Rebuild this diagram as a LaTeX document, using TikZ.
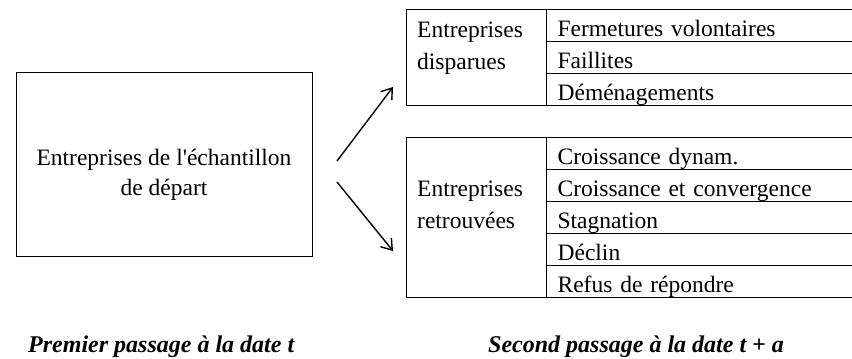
\documentclass[tikz,border=0pt]{standalone}
\usepackage{fontspec}
\setmainfont{Liberation Serif}
\newfontfamily\plainser{Liberation Serif}[Ligatures=TeXOff]
\usetikzlibrary{arrows.meta}
\begin{document}
\begin{tikzpicture}[x=1pt,y=-1pt,
  boxline/.style={draw=black,line width=1.2pt},
  rowcell/.style={boxline,anchor=north west,minimum height=32pt,text height=22pt,text depth=0pt,inner ysep=0pt,inner xsep=11pt,text width=292pt,align=left,font=\fontsize{23.5}{28}\selectfont},
  bigcell/.style={boxline,anchor=north west,inner sep=0pt,minimum width=140pt},
  textlbl/.style={anchor=base west,inner sep=0pt,font=\fontsize{23.5}{28}\selectfont},
  centlbl/.style={anchor=base,inner sep=0pt,font=\fontsize{23.5}{28}\selectfont},
  captxt/.style={anchor=base west,inner sep=0pt,font=\fontsize{24}{28}\selectfont\bfseries\itshape},
  arr/.style={line width=1.4pt,-{Straight Barb[length=10pt,width=14pt,line width=1.4pt]}}]
\useasboundingbox (0,0) rectangle (852,359);
\clip (0,0) rectangle (852,359);
% left box
\node[boxline,anchor=north west,inner sep=0pt,minimum width=296pt,minimum height=184pt] (start) at (16,72) {};
\node[centlbl] (st1) at (164,165) {Entreprises de l{\plainser '}échantillon};
\node[centlbl] (st2) at (164,195) {de départ};
% top table
\node[bigcell,minimum height=96pt] (disp) at (406,9) {};
\node[textlbl] (d1) at (417,37) {Entreprises};
\node[textlbl] (d2) at (417,69) {disparues};
\node[rowcell] (f1) at (546,9) {Fermetures volontaires};
\node[rowcell] (f2) at (546,41) {Faillites};
\node[rowcell] (f3) at (546,73) {Déménagements};
% bottom table
\node[bigcell,minimum height=160pt] (retr) at (406,137) {};
\node[textlbl] (r1) at (417,196) {Entreprises};
\node[textlbl] (r2) at (417,228) {retrouvées};
\node[rowcell] (g1) at (546,137) {Croissance dynam.};
\node[rowcell] (g2) at (546,169) {Croissance et convergence};
\node[rowcell] (g3) at (546,201) {Stagnation};
\node[rowcell] (g4) at (546,233) {Déclin};
\node[rowcell] (g5) at (546,265) {Refus de répondre};
% arrows
\coordinate (a1s) at (337,161);
\coordinate (a1e) at (393,87);
\coordinate (a2s) at (337,182);
\coordinate (a2e) at (393,251);
\draw[arr] (a1s) -- (a1e);
\draw[arr] (a2s) -- (a2e);
% captions
\node[captxt] (c1) at (28,352) {Premier passage à la date t};
\node[captxt] (c2) at (488,352) {Second passage à la date t + a};
\end{tikzpicture}
\end{document}
